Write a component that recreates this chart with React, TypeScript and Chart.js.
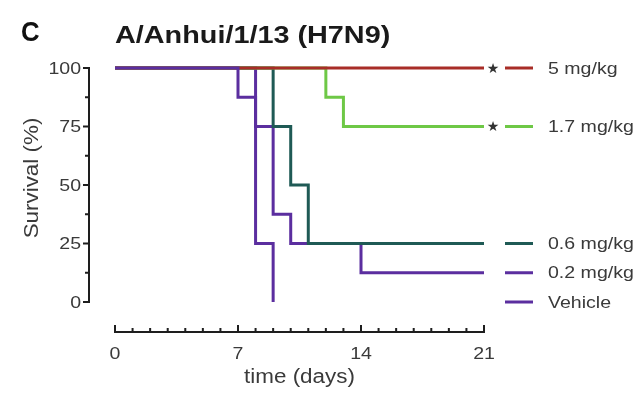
import { useEffect, useRef } from "react";
import { Chart, registerables } from "chart.js";

Chart.register(...registerables);

// Kaplan–Meier survival steps: day of each change and survival (%) after it
const vehicleDays = [0, 7, 8, 9];
const vehicleSurvival = [100, 87.5, 25, 0];
const dose5Days = [0, 21];
const dose5Survival = [100, 100];
const dose17Days = [0, 12, 13, 21];
const dose17Survival = [100, 87.5, 75, 75];
const dose06Days = [0, 9, 10, 11, 21];
const dose06Survival = [100, 75, 50, 25, 25];
const dose02Days = [0, 8, 9, 10, 14, 21];
const dose02Survival = [100, 75, 37.5, 25, 12.5, 12.5];

const seriesLabels = ["Vehicle", "5 mg/kg", "1.7 mg/kg", "0.6 mg/kg", "0.2 mg/kg"];
const seriesDays = [vehicleDays, dose5Days, dose17Days, dose06Days, dose02Days];
const seriesSurvival = [vehicleSurvival, dose5Survival, dose17Survival, dose06Survival, dose02Survival];
const seriesColors = ["#5b2e9f", "#a82d27", "#6ec846", "#1f5a55", "#5b2e9f"];
const seriesSignificant = [false, true, true, false, false];

const xTicks = [0, 7, 14, 21];
const xMinorStep = 1;
const yTicks = [0, 25, 50, 75, 100];
const yMinorStep = 12.5;

const panelLetter = "C";
const chartTitle = "A/Anhui/1/13 (H7N9)";
const xTitle = "time (days)";
const yTitle = "Survival (%)";

const FAMILY = "'Liberation Sans', Arial, Helvetica, sans-serif";
const AXIS_COLOR = "#1e1e1e";
const TEXT_COLOR = "#3a3a3a";

function drawText(
  ctx: CanvasRenderingContext2D,
  text: string,
  x: number,
  y: number,
  font: string,
  color: string,
  align: CanvasTextAlign,
  sx: number,
  rotate = 0
) {
  ctx.save();
  ctx.translate(x, y);
  if (rotate) ctx.rotate(rotate);
  ctx.scale(sx, 1);
  ctx.font = font;
  ctx.fillStyle = color;
  ctx.textAlign = align;
  ctx.textBaseline = "middle";
  ctx.fillText(text, 0, 0);
  ctx.restore();
}

// Offset (Prism-style) axes, titles and the end-of-line legend
const survivalDecor = {
  id: "survivalDecor",
  afterDraw(chart: any) {
    const ctx: CanvasRenderingContext2D = chart.ctx;
    const xs = chart.scales.x;
    const ys = chart.scales.y;
    const x0 = xs.getPixelForValue(xTicks[0]);
    const x1 = xs.getPixelForValue(xTicks[xTicks.length - 1]);
    const y0 = ys.getPixelForValue(yTicks[0]);
    const y1 = ys.getPixelForValue(yTicks[yTicks.length - 1]);
    const yAxisX = x0 - 26;
    const xAxisY = y0 + 30;

    ctx.save();
    ctx.strokeStyle = AXIS_COLOR;
    ctx.lineWidth = 2;
    ctx.lineCap = "butt";

    // y axis
    ctx.beginPath();
    ctx.moveTo(yAxisX, y0 + 1);
    ctx.lineTo(yAxisX, y1 - 1);
    for (let v = yTicks[0]; v <= yTicks[yTicks.length - 1] + 1e-6; v += yMinorStep) {
      const py = ys.getPixelForValue(v);
      const major = yTicks.includes(v);
      ctx.moveTo(yAxisX + 1, py);
      ctx.lineTo(yAxisX - (major ? 6 : 4), py);
    }
    ctx.stroke();

    // x axis
    ctx.beginPath();
    ctx.moveTo(x0 - 1, xAxisY);
    ctx.lineTo(x1 + 1, xAxisY);
    for (let d = xTicks[0]; d <= xTicks[xTicks.length - 1]; d += xMinorStep) {
      const px = xs.getPixelForValue(d);
      const major = xTicks.includes(d);
      ctx.moveTo(px, xAxisY + 1);
      ctx.lineTo(px, xAxisY - (major ? 7 : 4));
    }
    ctx.stroke();
    ctx.restore();

    const tickFont = `17px ${FAMILY}`;
    yTicks.forEach((v) => {
      drawText(ctx, String(v), yAxisX - 8, ys.getPixelForValue(v) + 1, tickFont, TEXT_COLOR, "right", 1.15);
    });
    xTicks.forEach((d) => {
      drawText(ctx, String(d), xs.getPixelForValue(d), xAxisY + 22, tickFont, TEXT_COLOR, "center", 1.15);
    });

    const titleFont = `20px ${FAMILY}`;
    drawText(ctx, xTitle, (x0 + x1) / 2, xAxisY + 45, titleFont, TEXT_COLOR, "center", 1.12);
    drawText(ctx, yTitle, 32, (y0 + y1) / 2 - 7, titleFont, TEXT_COLOR, "center", 1.12, -Math.PI / 2);

    drawText(ctx, panelLetter, 21, 33, `bold 28px ${FAMILY}`, "#111", "left", 0.92);
    drawText(ctx, chartTitle, x0, 36, `bold 24px ${FAMILY}`, "#1a1a1a", "left", 1.2);

    // legend entries at each curve's final survival level
    const legendFont = `17px ${FAMILY}`;
    seriesLabels.forEach((label, i) => {
      const vals = seriesSurvival[i];
      const py = ys.getPixelForValue(vals[vals.length - 1]);
      if (seriesSignificant[i]) {
        drawText(ctx, "\u2605", x1 + 9, py + 1, `14px 'DejaVu Sans', sans-serif`, "#333", "center", 1.0);
      }
      ctx.save();
      ctx.strokeStyle = seriesColors[i];
      ctx.lineWidth = 3;
      ctx.beginPath();
      ctx.moveTo(x1 + 21, py);
      ctx.lineTo(x1 + 49, py);
      ctx.stroke();
      ctx.restore();
      drawText(ctx, label, x1 + 64, py + 1, legendFont, TEXT_COLOR, "left", 1.15);
    });
  },
};

export default function App() {
  const canvasRef = useRef<HTMLCanvasElement | null>(null);

  useEffect(() => {
    const canvas = canvasRef.current;
    if (!canvas) return;

    const datasets = seriesLabels.map((label, i) => ({
      label,
      data: seriesDays[i].map((d, j) => ({ x: d, y: seriesSurvival[i][j] })),
      borderColor: seriesColors[i],
      backgroundColor: seriesColors[i],
      borderWidth: 3,
      borderJoinStyle: "miter" as const,
      borderCapStyle: "butt" as const,
      stepped: "before" as const,
      pointRadius: 0,
      fill: false,
      clip: false as const,
    }));

    const chart = new Chart(canvas, {
      type: "line",
      data: { datasets },
      options: {
        animation: false,
        responsive: false,
        devicePixelRatio: 1,
        layout: { padding: { left: 115, right: 152, top: 68, bottom: 91 } },
        plugins: { legend: { display: false }, tooltip: { enabled: false } },
        scales: {
          x: { type: "linear", min: xTicks[0], max: xTicks[xTicks.length - 1], display: false },
          y: { type: "linear", min: yTicks[0], max: yTicks[yTicks.length - 1], display: false },
        },
      },
      plugins: [survivalDecor],
    });

    return () => chart.destroy();
  }, []);

  return (
    <div style={{ position: "absolute", left: 0, top: 0, width: 636, height: 393, background: "#fff" }}>
      <canvas ref={canvasRef} width={636} height={393} style={{ display: "block" }} />
    </div>
  );
}
